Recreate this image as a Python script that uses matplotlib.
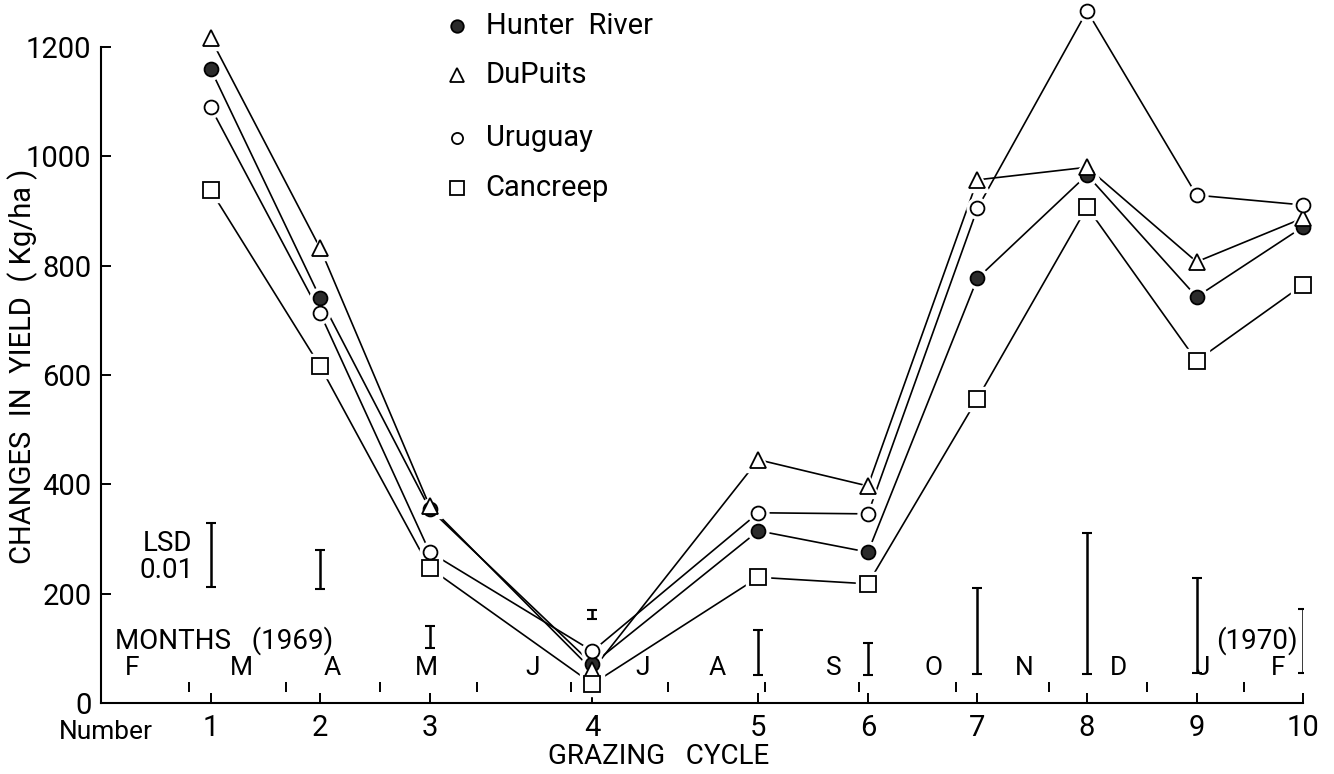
import numpy as np
import matplotlib
matplotlib.use('Agg')
import matplotlib.pyplot as plt
import matplotlib.dates as mdates

# Grazing cycles and the dates they were taken
cycles = ['1', '2', '3', '4', '5', '6', '7', '8', '9', '10']
cycle_dates = np.array(['1969-03-08', '1969-04-12', '1969-05-17', '1969-07-08',
                        '1969-08-30', '1969-10-04', '1969-11-08', '1969-12-13',
                        '1970-01-17', '1970-02-20'], dtype='datetime64[D]')

# Changes in yield (kg/ha)
hunter_river = [1160, 741, 355, 71, 315, 276, 777, 966, 743, 871]
dupuits = [1216, 832, 360, 60, 445, 397, 957, 980, 807, 887]
uruguay = [1090, 713, 276, 95, 348, 346, 905, 1266, 929, 911]
cancreep = [938, 616, 247, 35, 230, 218, 557, 907, 626, 765]

# LSD (0.01) bars at each cycle
lsd_bottom = [213, 209, 101, 154, 51, 51, 53, 53, 55, 55]
lsd_top = [330, 279, 141, 170, 134, 110, 210, 311, 229, 172]

# month letters along the time axis
month_letters = ['F', 'M', 'A', 'M', 'J', 'J', 'A', 'S', 'O', 'N', 'D', 'J', 'F']
month_label_dates = np.array(['1969-02-11', '1969-03-18', '1969-04-16', '1969-05-16',
                              '1969-06-19', '1969-07-24', '1969-08-17', '1969-09-23',
                              '1969-10-25', '1969-11-23', '1969-12-23', '1970-01-19',
                              '1970-02-12'], dtype='datetime64[D]')
month_starts = np.arange('1969-03', '1970-03', dtype='datetime64[M]').astype('datetime64[D]')

plt.rcParams['font.family'] = ['Roboto', 'DejaVu Sans']

x = mdates.date2num(cycle_dates)
x_start = mdates.date2num(np.datetime64('1969-02-01'))

fig = plt.figure(figsize=(13.34, 7.74), dpi=100)
ax = fig.add_axes([0.0757, 0.0917, 0.9011, 0.8476])

series = [
    (hunter_river, 'o', 10, '#2b2b2b'),
    (dupuits, '^', 12, 'white'),
    (uruguay, 'o', 10, 'white'),
    (cancreep, 's', 12, 'white'),
]

for vals, m, ms, fc in series:
    ax.plot(x, vals, color='black', lw=1.2, zorder=2, clip_on=False)
    # white halo so lines stop short of the symbols
    ax.plot(x, vals, ls='none', marker=m, ms=ms + 5, mfc='white', mec='white',
            zorder=3, clip_on=False)
    ax.plot(x, vals, ls='none', marker=m, ms=ms, mfc=fc, mec='black', mew=1.3,
            zorder=4, clip_on=False)

# LSD bars
lsd_mid = (np.array(lsd_top) + np.array(lsd_bottom)) / 2
lsd_half = (np.array(lsd_top) - np.array(lsd_bottom)) / 2
ax.errorbar(x, lsd_mid, yerr=lsd_half, fmt='none', ecolor='black',
            elinewidth=1.8, capsize=3.5, capthick=1.5, zorder=2)
ax.text(0.055, 267, 'LSD\n0.01', transform=ax.get_yaxis_transform(),
        ha='center', va='center', fontsize=20, linespacing=1.0)

# month boundaries and letters
ax.vlines(mdates.date2num(month_starts), 20, 38, color='black', lw=1.4)
for lab, d in zip(month_letters, mdates.date2num(month_label_dates)):
    ax.text(d, 64, lab, ha='center', va='center', fontsize=19)
ax.text(0.012, 115, 'MONTHS   (1969)', transform=ax.get_yaxis_transform(),
        ha='left', va='center', fontsize=20)
ax.text(0.962, 115, '(1970)', transform=ax.get_yaxis_transform(),
        ha='center', va='center', fontsize=20)

# legend drawn by hand
leg_names = ['Hunter  River', 'DuPuits', 'Uruguay', 'Cancreep']
leg_y = [1.032, 0.957, 0.861, 0.785]
leg_style = [('o', 9, '#2b2b2b'), ('^', 10, 'white'), ('o', 8, 'white'), ('s', 10, 'white')]
for name, yy, (m, ms, fc) in zip(leg_names, leg_y, leg_style):
    ax.plot([0.296], [yy], transform=ax.transAxes, marker=m, ms=ms, mfc=fc,
            mec='black', mew=1.3, clip_on=False, ls='none')
    ax.text(0.320, yy, name, transform=ax.transAxes, ha='left', va='center',
            fontsize=21)

# axes
ax.set_xlim(x_start, x[-1])
ax.set_ylim(0, 1200)
ax.set_xticks(x)
ax.set_xticklabels(cycles)
ax.set_yticks([0, 200, 400, 600, 800, 1000, 1200])
ax.tick_params(direction='in', length=7, width=1.4, labelsize=21)
ax.tick_params(axis='x', pad=8)
ax.tick_params(axis='y', pad=7)
for s in ['top', 'right']:
    ax.spines[s].set_visible(False)
ax.spines['left'].set_bounds(0, 1200)
ax.spines['left'].set_linewidth(1.5)
ax.spines['bottom'].set_linewidth(1.5)

fig.text(0.017, 0.527, 'CHANGES  IN  YIELD  ( Kg/ha )', rotation=90,
         ha='center', va='center', fontsize=21)
fig.text(0.0795, 0.054, 'Number', ha='center', va='center', fontsize=19)
fig.text(0.494, 0.022, 'GRAZING   CYCLE', ha='center', va='center', fontsize=20)

fig.savefig('out.png', dpi=100)
